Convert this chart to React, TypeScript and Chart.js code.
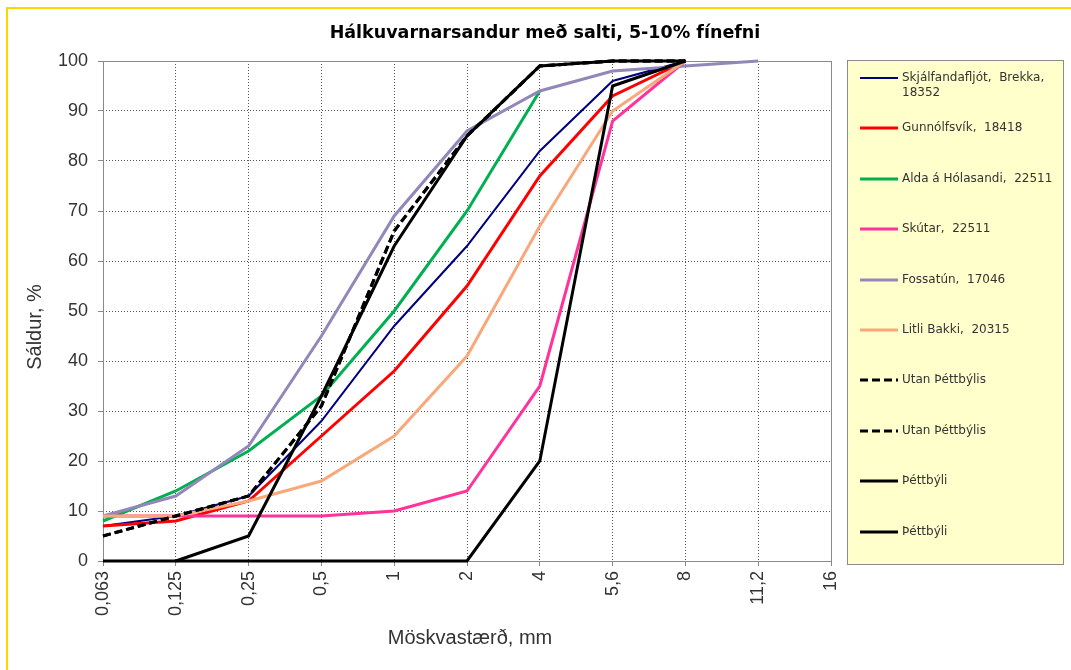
import React, { useEffect, useRef } from 'react';
import { Chart, registerables } from 'chart.js';

Chart.register(...registerables);

// ---- data ----
const sieveSizes = ['0,063', '0,125', '0,25', '0,5', '1', '2', '4', '5,6', '8', '11,2', '16'];
const yTicks = [0, 10, 20, 30, 40, 50, 60, 70, 80, 90, 100];

const skjalfandafljot = [7, 9, 13, 28, 47, 63, 82, 96, 100, null, null];
const gunnolfsvik = [7, 8, 12, 25, 38, 55, 77, 93, 100, null, null];
const aldaHolasandi = [8, 14, 22, 33, 50, 70, 94, null, null, null, null];
const skutar = [9, 9, 9, 9, 10, 14, 35, 88, 100, null, null];
const fossatun = [9, 13, 23, 45, 69, 86, 94, 98, 99, 100, null];
const litliBakki = [9, 9, 12, 16, 25, 41, 67, 90, 100, null, null];
const utanA = [5, 9, 13, 31, 66, 85, 99, 100, 100, null, null];
const utanB = [5, 9, 13, 31, 66, 85, 99, 100, 100, null, null];
const thettbyliUpper = [null, 0, 5, 33, 63, 85, 99, 100, 100, null, null];
const thettbyliLower = [0, 0, 0, 0, 0, 0, 20, 95, 100, null, null];

const seriesLabels = [
  'Skjálfandafljót,  Brekka,  18352',
  'Gunnólfsvík,  18418',
  'Alda á Hólasandi,  22511',
  'Skútar,  22511',
  'Fossatún,  17046',
  'Litli Bakki,  20315',
  'Utan Þéttbýlis',
  'Utan Þéttbýlis',
  'Þéttbýli',
  'Þéttbýli',
];
const seriesData = [
  skjalfandafljot, gunnolfsvik, aldaHolasandi, skutar, fossatun, litliBakki,
  utanA, utanB, thettbyliUpper, thettbyliLower,
];
const seriesColors = [
  '#00007F', '#FF0000', '#00B050', '#FF3399', '#9287B8', '#F9A87B',
  '#000000', '#000000', '#000000', '#000000',
];
const seriesWidths = [2, 3, 3, 3, 3, 3, 3, 3, 3, 3];
const seriesDashes: number[][] = [[], [], [], [], [], [], [8, 4], [8, 4], [], []];

const TICK_FONT = { family: 'Liberation Sans', size: 18 };

const areaBorder = {
  id: 'areaBorder',
  beforeDatasetsDraw(chart: any) {
    const { ctx, chartArea } = chart;
    ctx.save();
    ctx.strokeStyle = '#8a8a8a';
    ctx.lineWidth = 1;
    ctx.setLineDash([]);
    ctx.strokeRect(
      Math.round(chartArea.left) + 0.5,
      Math.round(chartArea.top) + 0.5,
      Math.round(chartArea.right - chartArea.left),
      Math.round(chartArea.bottom - chartArea.top)
    );
    ctx.restore();
  },
};

export default function App() {
  const canvasRef = useRef<HTMLCanvasElement | null>(null);

  useEffect(() => {
    if (!canvasRef.current) return;
    const n = seriesData.length;
    const chart = new Chart(canvasRef.current, {
      type: 'line',
      data: {
        labels: sieveSizes,
        datasets: seriesData.map((d, i) => ({
          label: seriesLabels[i],
          data: d,
          borderColor: seriesColors[i],
          backgroundColor: seriesColors[i],
          borderWidth: seriesWidths[i],
          borderDash: seriesDashes[i],
          pointRadius: 0,
          tension: 0,
          fill: false,
          clip: 6,
          order: n - i,
        })),
      },
      options: {
        animation: false,
        responsive: false,
        maintainAspectRatio: false,
        layout: { padding: { top: 61, right: 240, bottom: 0, left: 0 } },
        plugins: {
          legend: { display: false },
          title: { display: false },
          tooltip: { enabled: false },
        },
        scales: {
          x: {
            type: 'category',
            offset: false,
            grid: {
              color: '#555',
              lineWidth: 1,
              drawTicks: true,
              tickLength: 5,
              tickColor: '#888',
            },
            border: { display: false, dash: [1, 2] },
            ticks: {
              autoSkip: false,
              minRotation: 90,
              maxRotation: 90,
              padding: 5,
              color: '#333',
              font: TICK_FONT,
            },
            afterFit: (s: any) => {
              s.height = 109;
            },
          },
          y: {
            min: 0,
            max: 100,
            afterBuildTicks: (s: any) => {
              s.ticks = yTicks.map((v) => ({ value: v }));
            },
            grid: {
              color: '#555',
              lineWidth: 1,
              drawTicks: true,
              tickLength: 5,
              tickColor: '#888',
            },
            border: { display: false, dash: [1, 2] },
            ticks: {
              padding: 10,
              color: '#333',
              font: TICK_FONT,
            },
            afterFit: (s: any) => {
              s.width = 103;
            },
          },
        },
      },
      plugins: [areaBorder],
    });
    return () => chart.destroy();
  }, []);

  const legendTop = 78;
  const legendStep = 50.4;

  return (
    <div style={{ position: 'fixed', left: 0, top: 0, width: 1071, height: 670, overflow: 'hidden', background: '#fff' }}>
      <canvas ref={canvasRef} width={1071} height={670} style={{ position: 'absolute', left: 0, top: 0 }} />
      <div
        style={{
          position: 'absolute', left: 6, top: 7, width: 1100, height: 700,
          borderTop: '2px solid #FFD500', borderLeft: '2px solid #FFD500',
          pointerEvents: 'none',
        }}
      />
      <div
        style={{
          position: 'absolute', left: 545, top: 21, transform: 'translateX(-50%)',
          font: 'bold 17.5px "DejaVu Sans"', lineHeight: '22px', whiteSpace: 'nowrap', color: '#000',
        }}
      >
        Hálkuvarnarsandur með salti, 5-10% fínefni
      </div>
      <div
        style={{
          position: 'absolute', left: 34, top: 327, transform: 'translate(-50%, -50%) rotate(-90deg)',
          font: '20px "Liberation Sans"', whiteSpace: 'nowrap', color: '#333',
        }}
      >
        Sáldur, %
      </div>
      <div
        style={{
          position: 'absolute', left: 470, top: 637, transform: 'translate(-50%, -50%)',
          font: '20px "Liberation Sans"', whiteSpace: 'nowrap', color: '#333',
        }}
      >
        Möskvastærð, mm
      </div>
      <div
        style={{
          position: 'absolute', left: 847, top: 60, width: 217, height: 505,
          background: '#FFFFCC', border: '1px solid #8c8c8c', boxSizing: 'border-box',
        }}
      />
      {seriesLabels.map((lab, i) => {
        const cy = legendTop + i * legendStep;
        return (
          <React.Fragment key={i}>
            <svg
              width={40}
              height={8}
              style={{ position: 'absolute', left: 859, top: cy - 4 }}
            >
              <line
                x1={1}
                y1={4}
                x2={39}
                y2={4}
                stroke={seriesColors[i]}
                strokeWidth={seriesWidths[i]}
                strokeDasharray={seriesDashes[i].length ? seriesDashes[i].join(' ') : undefined}
              />
            </svg>
            <div
              style={{
                position: 'absolute', left: 902, top: cy - 8, width: 160,
                font: '12px "DejaVu Sans"', lineHeight: '15px', color: '#333', whiteSpace: 'pre-wrap',
              }}
            >
              {lab}
            </div>
          </React.Fragment>
        );
      })}
    </div>
  );
}
